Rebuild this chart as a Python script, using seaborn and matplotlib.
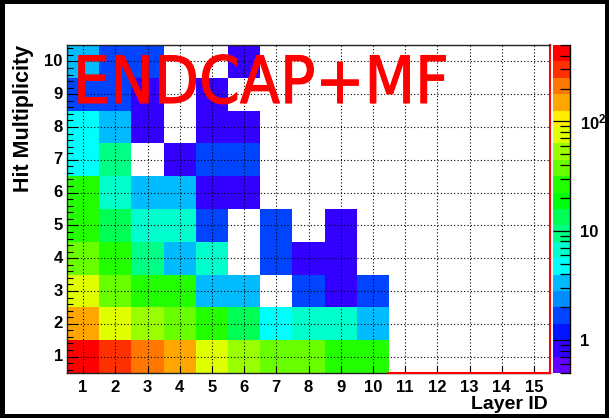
import colorsys

import numpy as np
import pandas as pd
import matplotlib
matplotlib.use("Agg")
import matplotlib.pyplot as plt
import matplotlib.patheffects as pe
import seaborn as sns
from matplotlib import font_manager
from matplotlib.colors import ListedColormap, LogNorm
from matplotlib.patches import Rectangle
from matplotlib.ticker import FixedLocator, LogLocator, FixedFormatter, NullFormatter

# ---- data: hit counts per (layer, multiplicity) bin ----
layers = list(range(1, 16))
multiplicity = list(range(1, 11))
nan = np.nan
mult_1 = [420, 300, 210, 150, 75, 53, 38, 38, 27, 27, nan, nan, nan, nan, nan]
mult_2 = [150, 75, 53, 38, 27, 13, 4.7, 6.7, 6.7, 3.3, nan, nan, nan, nan, nan]
mult_3 = [75, 38, 27, 27, 3.3, 3.3, nan, 1.7, 0.85, 1.7, nan, nan, nan, nan, nan]
mult_4 = [38, 27, 9.4, 3.3, 6.7, nan, 1.7, 0.85, 0.85, nan, nan, nan, nan, nan, nan]
mult_5 = [27, 13, 6.7, 6.7, 1.7, nan, 1.7, nan, 0.85, nan, nan, nan, nan, nan, nan]
mult_6 = [27, 6.7, 3.3, 3.3, 0.85, 0.85, nan, nan, nan, nan, nan, nan, nan, nan, nan]
mult_7 = [4.7, 9.4, nan, 0.85, 1.7, 1.7, nan, nan, nan, nan, nan, nan, nan, nan, nan]
mult_8 = [4.7, 3.3, 0.85, nan, 0.85, 0.85, nan, nan, nan, nan, nan, nan, nan, nan, nan]
mult_9 = [1.7, 1.7, 0.85, nan, 0.85, nan, nan, nan, nan, nan, nan, nan, nan, nan, nan]
mult_10 = [3.3, 1.7, 1.7, nan, nan, 0.85, nan, nan, nan, nan, nan, nan, nan, nan, nan]

rows = [mult_1, mult_2, mult_3, mult_4, mult_5, mult_6, mult_7, mult_8, mult_9, mult_10]
counts = pd.DataFrame(rows, index=multiplicity, columns=layers)
# heatmap draws the first row at the top
counts = counts.iloc[::-1]

z_min, z_max = 0.5, 500.0
n_levels = 20


def pretty_palette(levels=20, n_colors=50):
    """Violet->red HLS spectrum, sampled the way a 20-contour COLZ plot does."""
    cols = []
    for k in range(levels):
        idx = int((k + 0.99) * n_colors / levels)
        hue = max(280.0 - (idx + 1) * 280.0 / n_colors, 0.0)
        cols.append(colorsys.hls_to_rgb(hue / 360.0, 0.5, 1.0))
    return ListedColormap(cols)


def narrow_font():
    """Pick a condensed sans face for the big annotation, if one is installed."""
    names = {f.name for f in font_manager.fontManager.ttflist}
    if "Liberation Sans Narrow" in names:
        return dict(family="Liberation Sans Narrow")
    for f in font_manager.fontManager.ttflist:
        if f.name == "DejaVu Sans" and "Condensed" in f.fname and "Bold" not in f.fname \
                and "Oblique" not in f.fname:
            return dict(family="DejaVu Sans", stretch="condensed")
    return dict(family="DejaVu Sans")


plt.rcParams["font.family"] = ["Liberation Sans", "DejaVu Sans"]
plt.rcParams["font.weight"] = "bold"
plt.rcParams["mathtext.fontset"] = "custom"
plt.rcParams["mathtext.rm"] = "Liberation Sans:bold"
plt.rcParams["mathtext.bf"] = "Liberation Sans:bold"

W, H = 609, 418
fig = plt.figure(figsize=(W / 100, H / 100), dpi=100, facecolor="white")


def fx(px):
    return px / W


def fy(py):
    return 1 - py / H


ax_l, ax_r, ax_t, ax_b = 67, 550, 45, 373
ax = fig.add_axes([fx(ax_l), fy(ax_b), fx(ax_r - ax_l), (ax_b - ax_t) / H])
cax = fig.add_axes([fx(553), fy(ax_b), fx(570 - 553), (ax_b - ax_t) / H])

sns.heatmap(counts, ax=ax, cbar_ax=cax, cmap=pretty_palette(n_levels),
            norm=LogNorm(vmin=z_min, vmax=z_max), linewidths=0)

# axes ticks and labels
ax.set_xticks(np.arange(len(layers)) + 0.5)
ax.set_xticklabels([str(v) for v in layers], rotation=0, fontsize=12, fontweight="bold")
ax.set_yticks(np.arange(len(multiplicity)) + 0.5)
ax.set_yticklabels([str(v) for v in multiplicity[::-1]], rotation=0, fontsize=12, fontweight="bold")
ax.yaxis.set_minor_locator(FixedLocator(np.arange(0.1, 10.0, 0.2)))
ax.tick_params(axis="x", which="major", direction="in", length=5, width=0.8,
               pad=5, top=False, bottom=True, color="black")
ax.tick_params(axis="y", which="major", direction="in", length=8, width=0.8,
               pad=3, left=True, right=False, color="black")
ax.tick_params(axis="y", which="minor", direction="in", length=4.5, width=0.8,
               left=True, right=False, color="black")
ax.set_xlabel("")
ax.set_ylabel("")

# dotted grid over the cells
ax.set_axisbelow(False)
ax.grid(True, which="major", color="black", linestyle=(0, (1, 2)), linewidth=0.8)

# frame
for side in ["left", "top", "bottom", "right"]:
    ax.spines[side].set_visible(True)
    ax.spines[side].set_linewidth(1.0)
    ax.spines[side].set_color("#222222")
ax.spines["right"].set_color("red")
ax.spines["right"].set_linewidth(1.5)
ax.plot([10, 15], [10, 10], color="red", linewidth=1.5, clip_on=False, zorder=5)

# colour scale
cbar = ax.collections[0].colorbar
cbar.outline.set_visible(False)
cax.yaxis.set_major_locator(FixedLocator([1, 10, 100]))
cax.yaxis.set_major_formatter(FixedFormatter(["1", "10", r"$\mathbf{10^{2}}$"]))
cax.yaxis.set_minor_locator(LogLocator(base=10, subs=np.arange(2, 10)))
cax.yaxis.set_minor_formatter(NullFormatter())
cax.tick_params(which="major", direction="in", length=12, width=0.9, pad=7,
                labelsize=12, right=True, left=False, color="black")
cax.tick_params(which="minor", direction="in", length=7, width=0.9,
                right=True, left=False, color="black")
for lbl in cax.get_yticklabels():
    lbl.set_fontweight("bold")
cax.plot([1, 1], [0, 1], transform=cax.transAxes, color="black", linewidth=1.0,
         clip_on=False)

# axis titles
fig.text(fx(24), fy(45), "Hit Multiplicity", rotation=90, ha="center", va="top",
         fontsize=15.5, fontweight="bold")
fig.text(fx(548), fy(409), "Layer ID", ha="right", va="baseline",
         fontsize=14, fontweight="bold")

# hand-written annotation, sized to span layers 1-5.5
note = fig.text(fx(73), fy(103), "ENDCAP+MF", color="red", ha="left", va="baseline",
                fontsize=50, fontweight="normal", zorder=10, **narrow_font())
renderer = fig.canvas.get_renderer()
width_px = note.get_window_extent(renderer).width
note.set_fontsize(50 * 376.0 / width_px)
note.set_path_effects([pe.withStroke(linewidth=0.8, foreground="red")])

# black picture border
for (x0, y0, w, h) in [(0, H - 4, W, 4), (0, 0, 5, H), (W - 4, 0, 4, H), (0, 0, W, 4)]:
    fig.add_artist(Rectangle((x0 / W, y0 / H), w / W, h / H, transform=fig.transFigure,
                             facecolor="black", edgecolor="none", zorder=20))

fig.savefig("out.png", dpi=100, facecolor="white")
